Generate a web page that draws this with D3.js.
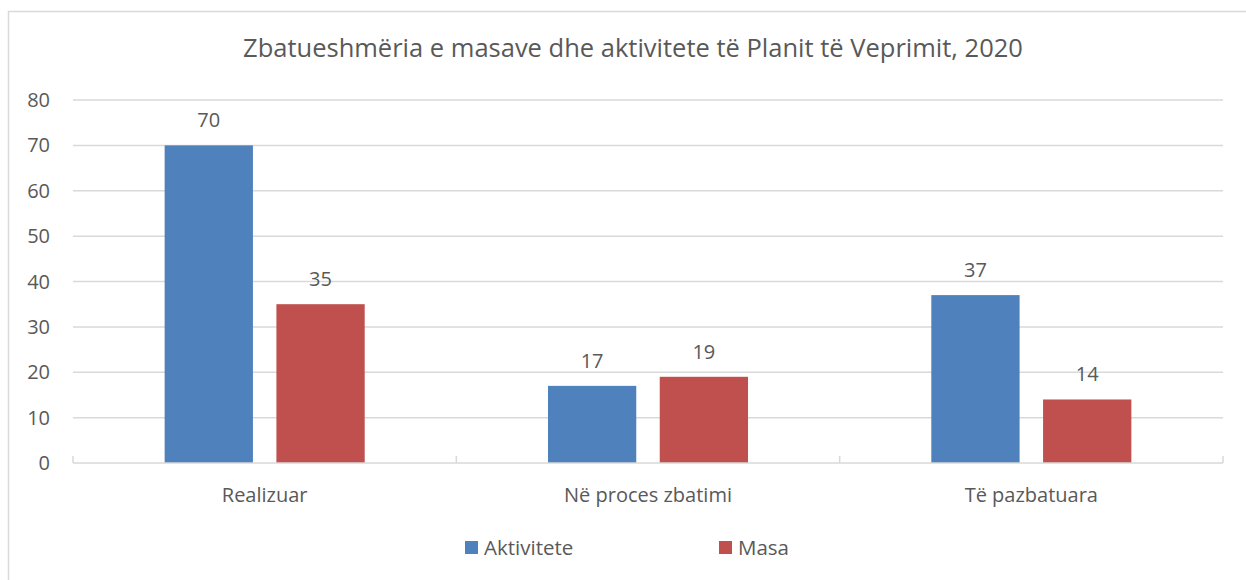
<!DOCTYPE html>
<html>
<head>
<meta charset="utf-8">
<title></title>
<style>
  body { margin: 0; background: #fff; }
  svg text { font-family: "Open Sans", "Noto Sans", sans-serif; fill: #595959; }
</style>
</head>
<body>
<div id="chart"></div>
<script src="https://d3js.org/d3.v7.min.js"></script>
<script>
const categories = ["Realizuar", "Në proces zbatimi", "Të pazbatuara"];
const seriesNames = ["Aktivitete", "Masa"];
const aktivitete = [70, 17, 37];
const masa = [35, 19, 14];
const yTicks = [0, 10, 20, 30, 40, 50, 60, 70, 80];
const colors = ["#4f81bd", "#c0504d"];

const W = 1246, H = 580;
const m = {left: 73, right: 23, top: 100, bottom: 117};

const svg = d3.select("#chart").append("svg")
  .attr("width", W).attr("height", H);

// chart border
svg.append("rect")
  .attr("x", 8.5).attr("y", 11.5)
  .attr("width", W + 10).attr("height", H + 10)
  .attr("fill", "none").attr("stroke", "#d9d9d9").attr("stroke-width", 1.5);

const x0 = d3.scaleBand().domain(categories)
  .range([m.left, W - m.right]).paddingInner(0).paddingOuter(0);
const x1 = d3.scaleBand().domain(seriesNames)
  .range([0, x0.bandwidth()]).paddingInner(0.21).paddingOuter(0.82);
const y = d3.scaleLinear().domain([0, 80]).range([H - m.bottom, m.top]);

// gridlines
svg.append("g").selectAll("line").data(yTicks.filter(d => d > 0)).join("line")
  .attr("x1", m.left).attr("x2", W - m.right)
  .attr("y1", d => y(d)).attr("y2", d => y(d))
  .attr("stroke", "#d9d9d9").attr("stroke-width", 1.5);

// y labels
svg.append("g").selectAll("text").data(yTicks).join("text")
  .attr("x", 50).attr("y", d => y(d) + 7)
  .attr("text-anchor", "end").attr("font-size", 20)
  .text(d => d);

// bars
const data = categories.map((c, i) => ({cat: c, vals: [
  {s: seriesNames[0], v: aktivitete[i], c: colors[0]},
  {s: seriesNames[1], v: masa[i], c: colors[1]}
]}));

const grp = svg.append("g").selectAll("g").data(data).join("g")
  .attr("transform", d => `translate(${x0(d.cat)},0)`);
grp.selectAll("rect").data(d => d.vals).join("rect")
  .attr("x", d => x1(d.s)).attr("width", x1.bandwidth())
  .attr("y", d => y(d.v)).attr("height", d => y(0) - y(d.v))
  .attr("fill", d => d.c);
grp.selectAll("text").data(d => d.vals).join("text")
  .attr("x", d => x1(d.s) + x1.bandwidth() / 2)
  .attr("y", d => y(d.v) - 18)
  .attr("text-anchor", "middle").attr("font-size", 20).attr("fill", "#404040")
  .text(d => d.v);

// x axis line and ticks
svg.append("line")
  .attr("x1", m.left).attr("x2", W - m.right)
  .attr("y1", y(0)).attr("y2", y(0))
  .attr("stroke", "#d9d9d9").attr("stroke-width", 1.5);
const tickX = categories.map(c => x0(c)).concat([W - m.right]);
svg.append("g").selectAll("line").data(tickX).join("line")
  .attr("x1", d => d).attr("x2", d => d)
  .attr("y1", y(0) - 7).attr("y2", y(0))
  .attr("stroke", "#d9d9d9").attr("stroke-width", 1.5);

// category labels
svg.append("g").selectAll("text").data(categories).join("text")
  .attr("x", d => x0(d) + x0.bandwidth() / 2).attr("y", 502)
  .attr("text-anchor", "middle").attr("font-size", 20)
  .text(d => d);

// title
svg.append("text")
  .attr("x", (W + 8) / 2 + 6).attr("y", 57)
  .attr("text-anchor", "middle").attr("font-size", 25.5)
  .text("Zbatueshmëria e masave dhe aktivitete të Planit të Veprimit, 2020");

// legend
const legX = [465, 719];
const leg = svg.append("g").selectAll("g").data(seriesNames).join("g")
  .attr("transform", (d, i) => `translate(${legX[i]},541)`);
leg.append("rect").attr("width", 13).attr("height", 13)
  .attr("fill", (d, i) => colors[i]);
leg.append("text").attr("x", 19).attr("y", 14).attr("font-size", 20.5)
  .text(d => d);
</script>
</body>
</html>
